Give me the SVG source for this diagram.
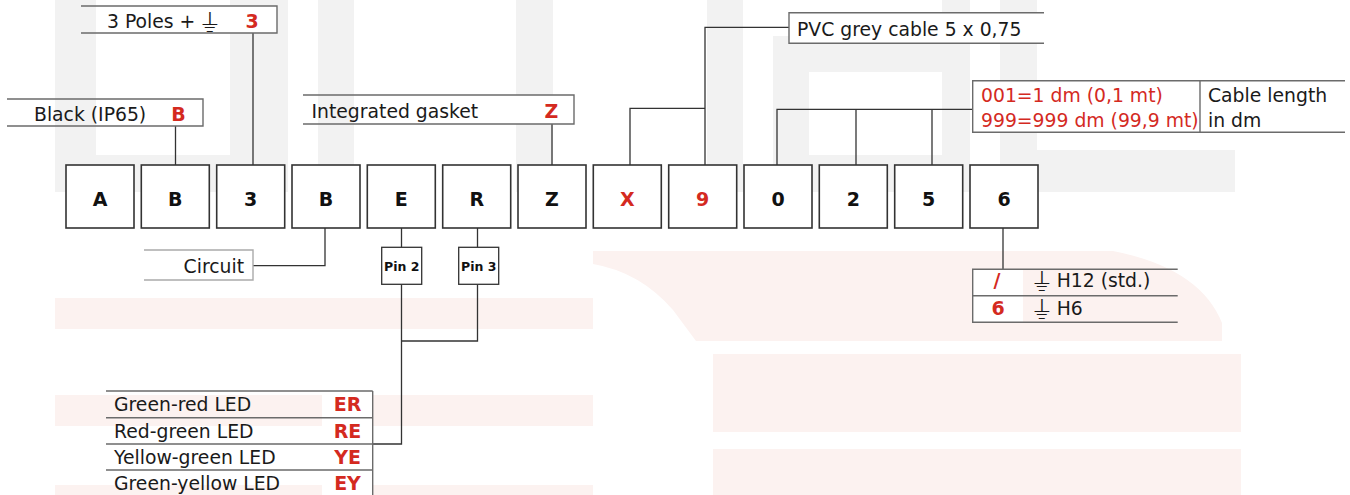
<svg xmlns="http://www.w3.org/2000/svg" width="1350" height="495" viewBox="0 0 1350 495">
<style>
text { font-family: "DejaVu Sans", "Liberation Sans", sans-serif; }
.lbl { font-size: 18.8px; fill: #1a1a1a; }
.gnd { font-size: 25px; baseline-shift: -4px; }
.red { fill: #d42a1f; font-weight: bold; font-size: 19px; text-anchor: middle; }
.redn { fill: #d42a1f; font-size: 18.8px; }
.key { font-size: 19px; font-weight: bold; fill: #111; text-anchor: middle; }
.keyr { font-size: 19px; font-weight: bold; fill: #d42a1f; text-anchor: middle; }
.box { fill: #fff; stroke: #333; stroke-width: 1.6; }
.pin { fill: #fff; stroke: #333; stroke-width: 1.3; }
.pint { font-size: 12.5px; font-weight: bold; fill: #111; text-anchor: middle; }
.frame { fill: none; stroke: #6b6b6b; stroke-width: 1.4; }
.light { fill: none; stroke: #aaaaaa; stroke-width: 1.4; }
.wh { fill: #fff; }
.wm { fill: #f2f2f2; }
.pk { fill: #fcf2f0; }
.con { fill: none; stroke: #333; stroke-width: 1.3; }
</style>
<rect width="1350" height="495" fill="#fff"/>
<g id="watermark">
  <rect class="wm" x="55" y="0" width="41" height="192"/>
  <rect class="wm" x="96" y="155" width="192" height="37"/>
  <rect class="wm" x="230" y="0" width="58" height="155"/>
  <rect class="wm" x="318" y="0" width="36" height="192"/>
  <rect class="wm" x="516" y="0" width="37" height="192"/>
  <rect class="wm" x="707" y="0" width="36" height="192"/>
  <rect class="wm" x="773" y="36" width="36" height="156"/>
  <rect class="wm" x="809" y="36" width="161" height="36"/>
  <rect class="wm" x="809" y="155" width="161" height="37"/>
  <rect class="wm" x="942" y="0" width="28" height="192"/>
  <rect class="wm" x="1000" y="0" width="37" height="192"/>
  <rect class="wm" x="1037" y="150" width="198" height="42"/>
  <rect class="pk" x="55" y="298" width="538" height="31"/>
  <rect class="pk" x="55" y="395" width="538" height="31"/>
  <rect class="pk" x="55" y="485" width="538" height="10"/>
  <path class="pk" d="M593,251 L1113,251 Q1200,268 1222,323 L1222,341 L696,341 L673,310 Q640,272 593,264 Z"/>
  <rect class="pk" x="713" y="354" width="528" height="78"/>
  <rect class="pk" x="713" y="449" width="528" height="46"/>
</g>
<g id="connectors">
  <path class="con" d="M175.5,126 V165"/>
  <path class="con" d="M253,33 V165"/>
  <path class="con" d="M552,124 V165"/>
  <path class="con" d="M630,165 V108.3 H705"/>
  <path class="con" d="M705,165 V27.3 H789"/>
  <path class="con" d="M777,165 V109.3 H972.7"/>
  <path class="con" d="M856,109.3 V165"/>
  <path class="con" d="M932,109.3 V165"/>
  <path class="con" d="M1003,228 V269.3"/>
  <path class="con" d="M325,228 V265.7 H253"/>
  <path class="con" d="M401.5,228 V247.3"/>
  <path class="con" d="M477.5,228 V247.3"/>
  <path class="con" d="M401.5,284.3 V444 H372.7"/>
  <path class="con" d="M477.5,284.3 V341 H401.5"/>
</g>
<g id="code-boxes">
  <g id="box-A"><rect class="box" x="66" y="165" width="68" height="63"/><text class="key" x="100" y="206">A</text></g>
  <g id="box-B"><rect class="box" x="141.3" y="165" width="68" height="63"/><text class="key" x="175.3" y="206">B</text></g>
  <g id="box-3"><rect class="box" x="216.7" y="165" width="68" height="63"/><text class="key" x="250.7" y="206">3</text></g>
  <g id="box-B2"><rect class="box" x="292" y="165" width="68" height="63"/><text class="key" x="326" y="206">B</text></g>
  <g id="box-E"><rect class="box" x="367.3" y="165" width="68" height="63"/><text class="key" x="401.3" y="206">E</text></g>
  <g id="box-R"><rect class="box" x="442.7" y="165" width="68" height="63"/><text class="key" x="476.7" y="206">R</text></g>
  <g id="box-Z"><rect class="box" x="518" y="165" width="68" height="63"/><text class="key" x="552" y="206">Z</text></g>
  <g id="box-X"><rect class="box" x="593.3" y="165" width="68" height="63"/><text class="keyr" x="627.3" y="206">X</text></g>
  <g id="box-9"><rect class="box" x="668.7" y="165" width="68" height="63"/><text class="keyr" x="702.7" y="206">9</text></g>
  <g id="box-0"><rect class="box" x="744" y="165" width="68" height="63"/><text class="key" x="778" y="206">0</text></g>
  <g id="box-2"><rect class="box" x="819.3" y="165" width="68" height="63"/><text class="key" x="853.3" y="206">2</text></g>
  <g id="box-5"><rect class="box" x="894.7" y="165" width="68" height="63"/><text class="key" x="928.7" y="206">5</text></g>
  <g id="box-6"><rect class="box" x="970" y="165" width="68" height="63"/><text class="key" x="1004" y="206">6</text></g>
</g>
<g id="label-poles">
  <rect class="wh" x="228" y="6" width="49" height="27"/>
  <path class="frame" d="M81,6 H277 V33 H81"/>
  <text class="lbl" x="107" y="27.5">3 Poles + <tspan class="gnd">&#x23DA;</tspan></text>
  <text class="red" x="252" y="27.5">3</text>
</g>
<g id="label-black">
  <path class="frame" d="M7,99 H203 V126 H7"/>
  <text class="lbl" x="34" y="121">Black (IP65)</text>
  <text class="red" x="178.5" y="121">B</text>
</g>
<g id="label-gasket">
  <rect class="wh" x="512" y="95" width="62" height="29"/>
  <path class="frame" d="M303,95 H574 V124 H303"/>
  <text class="lbl" x="311.5" y="117.5">Integrated gasket</text>
  <text class="red" x="551.5" y="117.5">Z</text>
</g>
<g id="label-cable">
  <rect class="wh" x="789" y="12.7" width="255" height="30.6"/>
  <path class="frame" d="M1044,12.7 H789 V43.3 H1044"/>
  <text class="lbl" x="797" y="36">PVC grey cable 5 x 0,75</text>
</g>
<g id="label-length">
  <rect class="wh" x="972.7" y="80.7" width="372" height="51.6"/>
  <path class="frame" d="M1345,80.7 H972.7 V132.3 H1345 M1200,80.7 V132.3"/>
  <text class="redn" x="981" y="101.7">001=1 dm (0,1 mt)</text>
  <text class="redn" x="981" y="126.7">999=999 dm (99,9 mt)</text>
  <text class="lbl" x="1208" y="101.7">Cable length</text>
  <text class="lbl" x="1208" y="126.7">in dm</text>
</g>
<g id="label-circuit">
  <rect class="wh" x="144" y="250" width="109" height="30"/>
  <path class="light" d="M144,250 H253 V280 H144"/>
  <text class="lbl" x="244" y="273" text-anchor="end">Circuit</text>
</g>
<g id="pin-2">
  <rect class="pin" x="381.7" y="247.3" width="40" height="37"/>
  <text class="pint" x="401.7" y="270.5">Pin 2</text>
</g>
<g id="pin-3">
  <rect class="pin" x="458.7" y="247.3" width="40" height="37"/>
  <text class="pint" x="478.7" y="270.5">Pin 3</text>
</g>
<g id="led-table">
  <rect class="wh" x="322" y="391" width="50.7" height="104"/>
  <path class="frame" d="M106,391 H372.7 M106,417.7 H372.7 M106,444 H372.7 M106,470 H372.7 M372.7,391 V495"/>
  <text class="lbl" x="114" y="411">Green-red LED</text>
  <text class="red" x="347.5" y="411">ER</text>
  <text class="lbl" x="114" y="437.5">Red-green LED</text>
  <text class="red" x="347.5" y="437.5">RE</text>
  <text class="lbl" x="114" y="464">Yellow-green LED</text>
  <text class="red" x="347.5" y="464">YE</text>
  <text class="lbl" x="114" y="490">Green-yellow LED</text>
  <text class="red" x="347.5" y="490">EY</text>
</g>
<g id="height-table">
  <rect class="wh" x="972.7" y="269.3" width="50.3" height="53"/>
  <path class="frame" d="M1177.7,269.3 H972.7 V322.3 H1177.7 M972.7,295.7 H1177.7"/>
  <text class="red" x="997" y="287">/</text>
  <text class="lbl" x="1032.7" y="287"><tspan class="gnd">&#x23DA;</tspan> H12 (std.)</text>
  <text class="red" x="998" y="315">6</text>
  <text class="lbl" x="1032.7" y="315"><tspan class="gnd">&#x23DA;</tspan> H6</text>
</g>
</svg>
